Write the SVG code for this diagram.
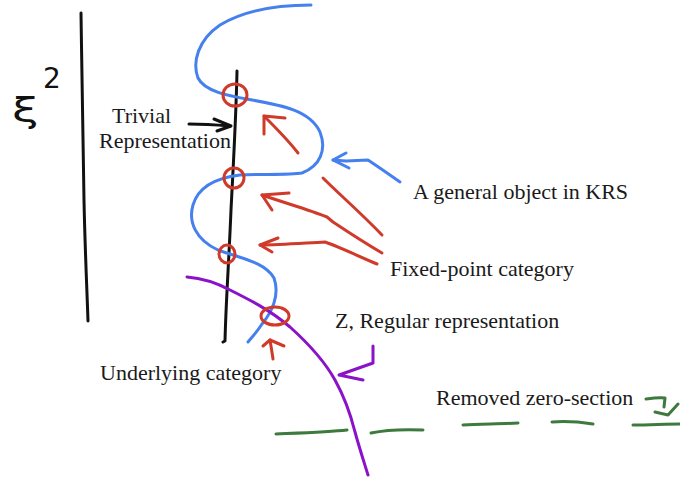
<svg xmlns="http://www.w3.org/2000/svg" width="680" height="478" viewBox="0 0 680 478">
  <style>
    .ink { fill: none; stroke-width: 3; stroke-linecap: round; stroke-linejoin: round; }
    .blk { stroke: #111111; }
    .blu { stroke: #4680ee; }
    .red { stroke: #d03a2a; }
    .pur { stroke: #8a12c8; }
    .grn { stroke: #3e7a3e; }
    .lbl { font-family: "Liberation Serif", "Times New Roman", serif; font-size: 22px; fill: #1a1a1a; }
    .sym { font-family: "DejaVu Sans", sans-serif; fill: #111111; }
  </style>
  <rect width="680" height="478" fill="#ffffff"/>

  <!-- axis and its label -->
  <g id="axis">
    <path class="ink blk" d="M81,13 C82,80 83,150 84,200 C85,250 87,290 88,321"/>
    <text class="sym" font-size="33" transform="translate(12,122) scale(1.45,1)">ξ</text>
    <text class="sym" font-size="28" x="43" y="88">2</text>
  </g>

  <!-- underlying category: vertical line -->
  <g id="underlying-line">
    <path class="ink blk" d="M237,71 C236,120 233,170 231,210 C229,260 226,300 225,341 L223,342"/>
  </g>

  <!-- general object: blue curve -->
  <g id="general-object">
    <path class="ink blu" d="M311,5 C280,5 245,10 220,25 C198,40 192,62 198,78 C205,92 230,96 252,100 C280,105 310,110 320,132 C327,150 320,166 302,173 C290,175 262,174 240,175 C215,178 198,188 193,205 C188,222 196,240 218,250 C240,258 265,262 274,278 C280,295 272,312 262,324 C257,332 252,337 248,342"/>
  </g>

  <!-- regular representation: purple curve -->
  <g id="regular-rep">
    <path class="ink pur" d="M187,277 C200,278 215,282 230,290 C250,300 270,310 290,327 C310,345 325,362 335,380 C345,398 350,412 355,432 C360,450 364,462 368,475"/>
  </g>

  <!-- fixed points: red circles -->
  <g id="fixed-points">
    <ellipse class="ink red" cx="235" cy="95" rx="12" ry="11"/>
    <ellipse class="ink red" cx="234" cy="178" rx="10" ry="10"/>
    <ellipse class="ink red" cx="227" cy="254" rx="8" ry="9"/>
    <ellipse class="ink red" cx="275" cy="316" rx="14" ry="9"/>
  </g>

  <!-- removed zero-section: green dashes -->
  <g id="zero-section">
    <path class="ink grn" d="M276,434 C300,433 330,432 347,430"/>
    <path class="ink grn" d="M371,433 C385,430 400,429 423,430"/>
    <path class="ink grn" d="M463,425 C480,424 500,424 518,423"/>
    <path class="ink grn" d="M552,422 C565,421 580,422 593,424"/>
    <path class="ink grn" d="M633,425 C650,425 665,424 680,424"/>
    <path class="ink grn" d="M646,399 C653,398 660,397 665,398 L664,407"/>
    <path class="ink grn" d="M655,412 L668,415 L678,404"/>
  </g>

  <!-- labels -->
  <g id="labels">
    <text class="lbl" x="112" y="123">Trivial</text>
    <text class="lbl" x="99" y="148">Representation</text>
    <text class="lbl" x="413" y="199">A general object in KRS</text>
    <text class="lbl" x="390" y="276">Fixed-point category</text>
    <text class="lbl" x="335" y="328">Z, Regular representation</text>
    <text class="lbl" x="100" y="380">Underlying category</text>
    <text class="lbl" x="436" y="405">Removed zero-section</text>
  </g>

  <!-- connectors -->
  <g id="connectors">
    <!-- trivial representation -->
    <path class="ink blk" d="M189,124 C205,124 218,125 230,126"/>
    <path class="ink blk" d="M214,119 L231,126 L217,131"/>
    <!-- general object -->
    <path class="ink blu" d="M400,182 C390,175 380,168 368,160 L346,161 L333,160"/>
    <path class="ink blu" d="M346,153 L333,160 L349,168"/>
    <!-- fixed-point arrows -->
    <path class="ink red" d="M298,153 C288,140 276,128 264,116"/>
    <path class="ink red" d="M285,118 L264,116 L264,134"/>
    <path class="ink red" d="M382,253 C365,243 348,232 333,222 L327,217 C310,210 285,203 262,195"/>
    <path class="ink red" d="M289,193 L262,195 L272,210"/>
    <path class="ink red" d="M323,178 C340,195 360,212 382,235"/>
    <path class="ink red" d="M377,264 C360,257 340,247 325,242 C305,243 280,245 260,245"/>
    <path class="ink red" d="M278,238 L260,245 L272,252"/>
    <!-- underlying category -->
    <path class="ink red" d="M273,359 C272,352 271,346 270,340"/>
    <path class="ink red" d="M263,346 L270,340 L284,346"/>
    <!-- regular representation -->
    <path class="ink pur" d="M373,346 L373,363 L339,375 L363,380"/>
  </g>
</svg>
